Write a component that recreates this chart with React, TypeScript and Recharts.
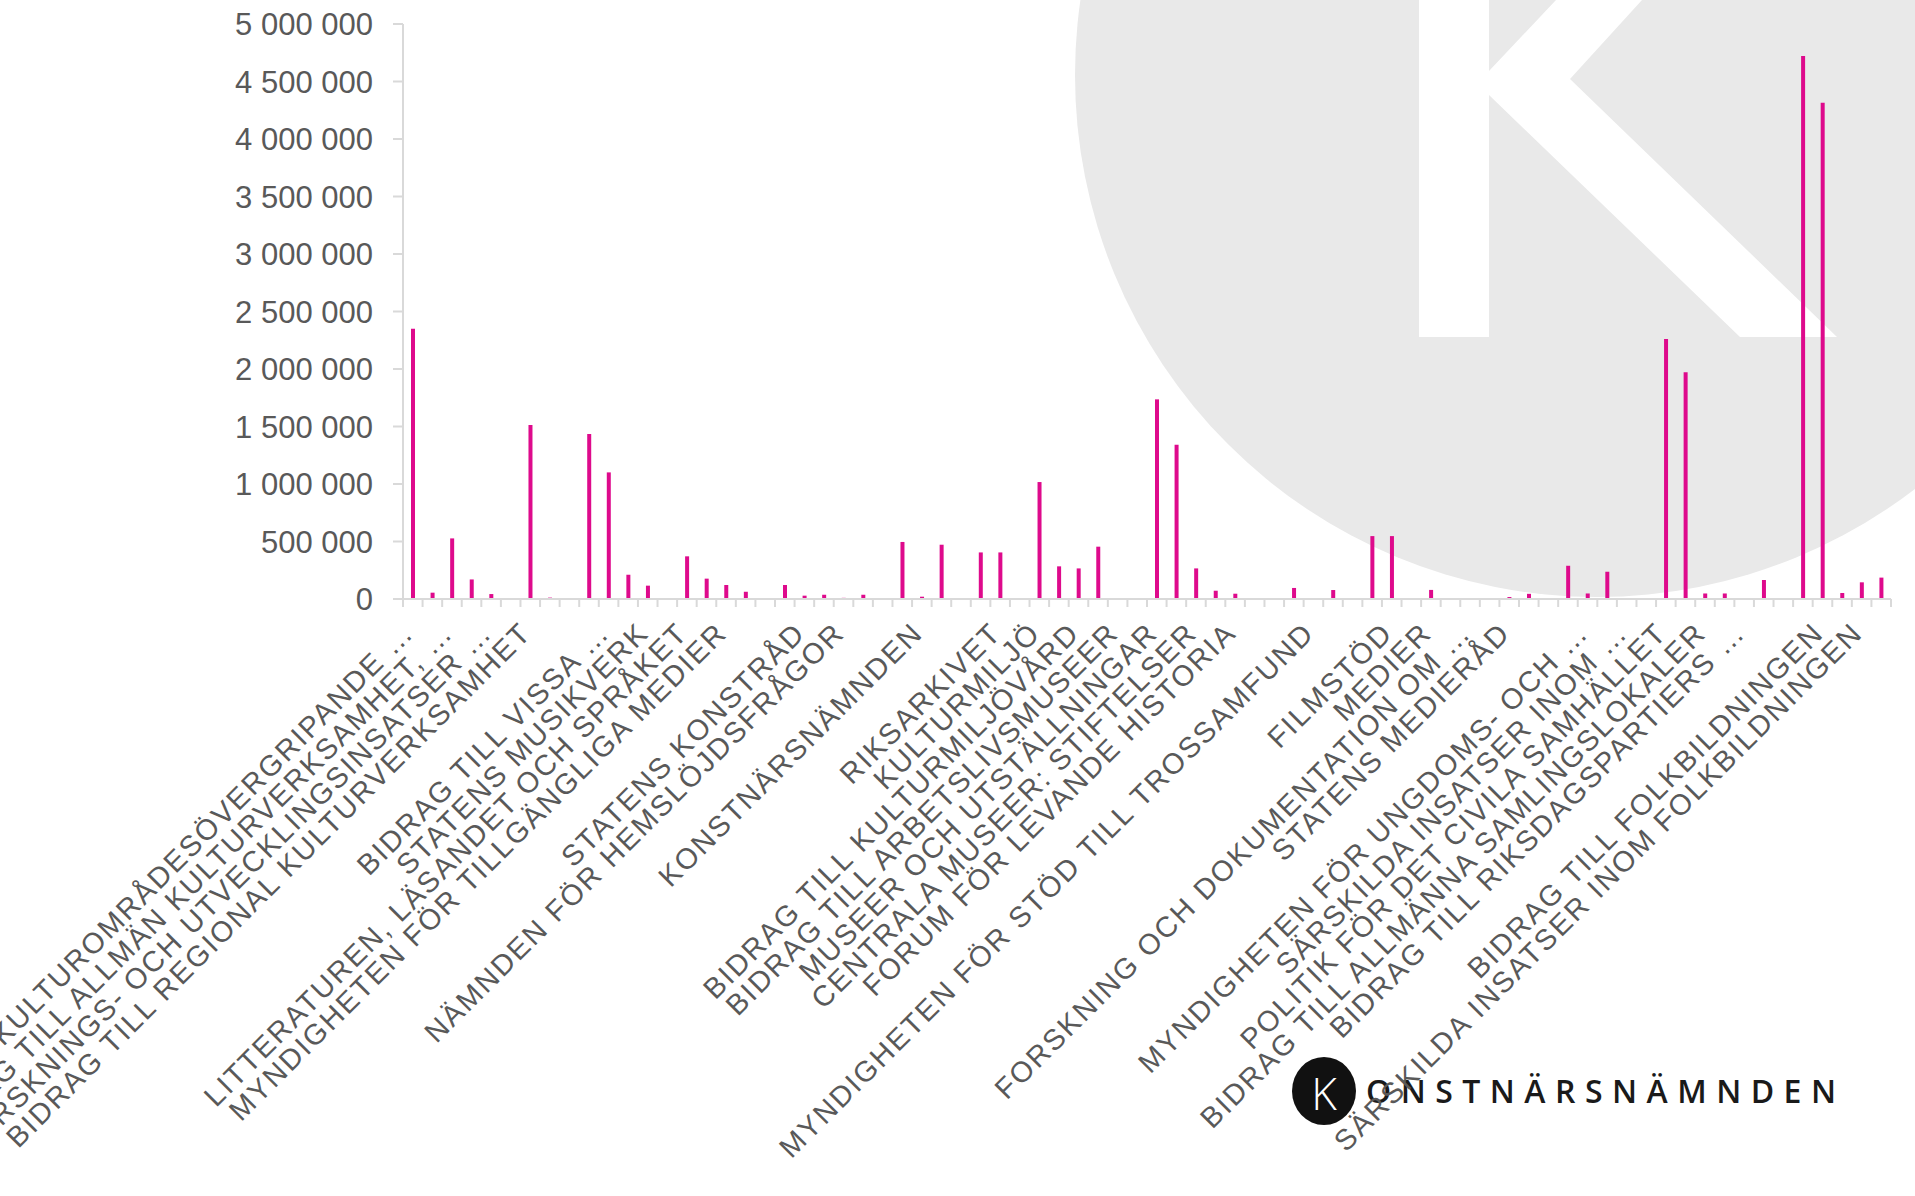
import { BarChart, Bar, XAxis, YAxis } from "recharts";

// belopp per anslag (tkr), ett värde per kategori
const VALUES = [
  2350000, 55000, 527000, 170000, 43000, 5000, 1513000, 12000, 0, 1435000,
  1101000, 211000, 116000, 0, 371000, 177000, 122000, 63000, 0, 122000,
  29000, 37000, 10000, 37000, 0, 496000, 20000, 472000, 0, 405000,
  405000, 0, 1017000, 284000, 266000, 455000, 3000, 0, 1736000, 1342000,
  266000, 72000, 46000, 0, 0, 96000, 8000, 78000, 0, 547000,
  547000, 0, 79000, 5000, 0, 0, 17000, 45000, 0, 289000,
  48000, 237000, 0, 0, 2261000, 1972000, 48000, 48000, 5000, 165000,
  0, 4721000, 4315000, 52000, 145000, 186000,
];

// kategorinamn (Excel visar bara varannan etikett)
const CATEGORIES = [
  "KULTUROMRÅDESÖVERGRIPANDE …", "",
  "BIDRAG TILL ALLMÄN KULTURVERKSAMHET, …", "",
  "FORSKNINGS- OCH UTVECKLINGSINSATSER …", "",
  "BIDRAG TILL REGIONAL KULTURVERKSAMHET", "",
  "", "",
  "BIDRAG TILL VISSA …", "",
  "STATENS MUSIKVERK", "",
  "LITTERATUREN, LÄSANDET OCH SPRÅKET", "",
  "MYNDIGHETEN FÖR TILLGÄNGLIGA MEDIER", "",
  "", "",
  "STATENS KONSTRÅD", "",
  "NÄMNDEN FÖR HEMSLÖJDSFRÅGOR", "",
  "", "",
  "KONSTNÄRSNÄMNDEN", "",
  "", "",
  "RIKSARKIVET", "",
  "KULTURMILJÖ", "",
  "BIDRAG TILL KULTURMILJÖVÅRD", "",
  "BIDRAG TILL ARBETSLIVSMUSEER", "",
  "MUSEER OCH UTSTÄLLNINGAR", "",
  "CENTRALA MUSEER: STIFTELSER", "",
  "FORUM FÖR LEVANDE HISTORIA", "",
  "", "",
  "MYNDIGHETEN FÖR STÖD TILL TROSSAMFUND", "",
  "", "",
  "FILMSTÖD", "",
  "MEDIER", "",
  "FORSKNING OCH DOKUMENTATION OM …", "",
  "STATENS MEDIERÅD", "",
  "", "",
  "MYNDIGHETEN FÖR UNGDOMS- OCH …", "",
  "SÄRSKILDA INSATSER INOM …", "",
  "POLITIK FÖR DET CIVILA SAMHÄLLET", "",
  "BIDRAG TILL ALLMÄNNA SAMLINGSLOKALER", "",
  "BIDRAG TILL RIKSDAGSPARTIERS …", "",
  "", "",
  "BIDRAG TILL FOLKBILDNINGEN", "",
  "SÄRSKILDA INSATSER INOM FOLKBILDNINGEN", "",
];

const Y_TICKS = [
  0, 500000, 1000000, 1500000, 2000000, 2500000, 3000000, 3500000, 4000000,
  4500000, 5000000,
];

const W = 1915;
const H = 1196;
const LEFT = 403;
const RIGHT = 24;
const TOP = 24;
const XAXIS_H = 597;
const BAND = (W - LEFT - RIGHT) / VALUES.length;

const FONT = "'Liberation Sans', Arial, sans-serif";
const TEXT = "#595959";
const AXIS = "#d9d9d9";
const PINK = "#de0a8c";

const LABEL_SIZE = 29;
const LABEL_LS = 2;
const CAP = LABEL_SIZE * 0.716 * 0.707;

const fmt = (v: number) => String(v).replace(/\B(?=(\d{3})+(?!\d))/g, " ");

function CategoryTick(props: any) {
  const { x, y, payload, index } = props;
  const label = CATEGORIES[payload.value] ?? "";
  const half = BAND / 2;
  return (
    <g>
      <line x1={x - half} y1={y} x2={x - half} y2={y + 8} stroke={AXIS} strokeWidth={2} />
      {index === VALUES.length - 1 && (
        <line x1={x + half} y1={y} x2={x + half} y2={y + 8} stroke={AXIS} strokeWidth={2} />
      )}
      {label && (
        <g transform={`translate(${x + CAP - 12},${y + 21 + CAP}) rotate(-45)`}>
          <text
            x={0}
            y={0}
            textAnchor="end"
            fill={TEXT}
            fontSize={LABEL_SIZE}
            fontFamily={FONT}
            letterSpacing={LABEL_LS}
          >
            {label}
          </text>
        </g>
      )}
    </g>
  );
}

function Watermark() {
  return (
    <svg
      width={W}
      height={H}
      style={{ position: "absolute", left: 0, top: 0 }}
    >
      <circle cx={1597} cy={75} r={522} fill="#e9e9e9" />
      <polygon
        points="1419,0 1489,0 1489,71 1556,0 1642,0 1570,79 1837,337 1740,337 1489,95 1489,337 1419,337"
        fill="#ffffff"
      />
      <ellipse cx={1324} cy={1091} rx={32} ry={34} fill="#111111" />
      <text
        x={1324}
        y={1093}
        textAnchor="middle"
        dominantBaseline="central"
        fill="#ffffff"
        fontSize={44}
        fontWeight={300}
        fontFamily="'Open Sans', sans-serif"
      >
        K
      </text>
      <text
        x={1366}
        y={1103}
        fill="#1a1a1a"
        fontSize={32}
        fontWeight={600}
        fontFamily="'Open Sans', sans-serif"
        textLength={470}
        lengthAdjust="spacing"
      >
        ONSTNÄRSNÄMNDEN
      </text>
    </svg>
  );
}

export default function App() {
  const data = VALUES.map((value, idx) => ({ idx, value }));

  return (
    <div
      style={{
        position: "absolute",
        left: 0,
        top: 0,
        width: W,
        height: H,
        background: "#ffffff",
        fontFamily: FONT,
      }}
    >
      <Watermark />
      <div style={{ position: "absolute", left: 0, top: 0 }}>
        <BarChart
          width={W}
          height={H}
          data={data}
          margin={{ top: TOP, right: RIGHT, left: 0, bottom: 0 }}
        >
          <XAxis
            dataKey="idx"
            type="category"
            interval={0}
            height={XAXIS_H}
            tickSize={0}
            tickMargin={0}
            tickLine={false}
            axisLine={{ stroke: AXIS, strokeWidth: 2 }}
            tick={<CategoryTick />}
          />
          <YAxis
            width={LEFT}
            domain={[0, 5000000]}
            ticks={Y_TICKS}
            interval={0}
            tickFormatter={fmt}
            tickSize={10}
            tickMargin={20}
            tickLine={{ stroke: AXIS, strokeWidth: 2 }}
            axisLine={{ stroke: AXIS, strokeWidth: 2 }}
            tick={{ fill: TEXT, fontSize: 31, fontFamily: FONT }}
          />
          <Bar dataKey="value" fill={PINK} barSize={4} isAnimationActive={false} />
        </BarChart>
      </div>
    </div>
  );
}
